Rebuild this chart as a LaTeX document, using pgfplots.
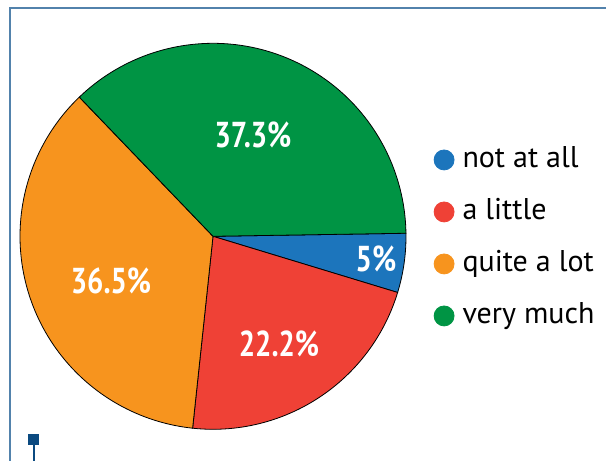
\documentclass[border=0pt]{standalone}
\usepackage{pgfplots}
\usepackage{pgfplotstable}
\pgfplotsset{compat=1.18}
\usepackage{fontspec}
\setmainfont{PT Sans}
\definecolor{cBlue}{HTML}{1C75BC}
\definecolor{cRed}{HTML}{EF4136}
\definecolor{cOrange}{HTML}{F7941E}
\definecolor{cGreen}{HTML}{009444}
\definecolor{frameblue}{HTML}{5282AC}
\definecolor{navy}{HTML}{0B4A80}

\pgfplotstableread{
value
5
22.2
36.5
37.3
}\piedata

\begin{document}
\begin{tikzpicture}
\pgfplotstablegetelem{0}{value}\of\piedata \pgfmathsetmacro\va{\pgfplotsretval}
\pgfplotstablegetelem{1}{value}\of\piedata \pgfmathsetmacro\vb{\pgfplotsretval}
\pgfplotstablegetelem{2}{value}\of\piedata \pgfmathsetmacro\vc{\pgfplotsretval}
\pgfplotstablegetelem{3}{value}\of\piedata \pgfmathsetmacro\vd{\pgfplotsretval}
\pgfmathsetmacro\tot{\va+\vb+\vc+\vd}
\pgfmathsetmacro\aO{0.9}
\pgfmathsetmacro\aA{\aO-360*\va/\tot}
\pgfmathsetmacro\aB{\aA-360*\vb/\tot}
\pgfmathsetmacro\aC{\aB-360*\vc/\tot}
\pgfmathsetmacro\aD{\aC-360*\vd/\tot}
\begin{axis}[width=606pt,height=461pt,scale only axis,
  xmin=0,xmax=606,ymin=0,ymax=461,hide axis,clip=false,
  legend cell align=left,
  legend style={draw=none,fill=none,at={(axis cs:430.5,316)},anchor=north west,
    font=\fontsize{30}{33}\selectfont,row sep=26.5pt,column sep=8pt,
    nodes={inner sep=0pt,text height=20.5pt,text depth=5pt}},
  ]
\addplot[fill=cBlue,draw=black,line width=0.8pt,domain=\aA:\aO,samples=30,variable=\t,
  legend image code/.code={\fill[cBlue] (10pt,0pt) circle (10pt);}]
  ({213+193*cos(\t)},{224.7+193*sin(\t)}) -- (axis cs:213,224.7) -- cycle;
\addlegendentry{not at all}
\addplot[fill=cRed,draw=black,line width=0.8pt,domain=\aB:\aA,samples=60,variable=\t,
  legend image code/.code={\fill[cRed] (10pt,0pt) circle (10pt);}]
  ({213+193*cos(\t)},{224.7+193*sin(\t)}) -- (axis cs:213,224.7) -- cycle;
\addlegendentry{a little}
\addplot[fill=cOrange,draw=black,line width=0.8pt,domain=\aC:\aB,samples=90,variable=\t,
  legend image code/.code={\fill[cOrange] (10pt,0pt) circle (10pt);}]
  ({213+193*cos(\t)},{224.7+193*sin(\t)}) -- (axis cs:213,224.7) -- cycle;
\addlegendentry{quite a lot}
\addplot[fill=cGreen,draw=black,line width=0.8pt,domain=\aD:\aC,samples=90,variable=\t,
  legend image code/.code={\fill[cGreen] (10pt,0pt) circle (10pt);}]
  ({213+193*cos(\t)},{224.7+193*sin(\t)}) -- (axis cs:213,224.7) -- cycle;
\addlegendentry{very much}
% frame and marker
\addplot[draw=frameblue,line width=2pt,forget plot] coordinates {(9.5,0) (9.5,453) (606,453)};
\addplot[fill=navy,draw=none,forget plot] coordinates {(28,16) (39,16) (39,27) (28,27)} -- cycle;
\addplot[draw=navy,line width=2pt,forget plot] coordinates {(33.5,0) (33.5,16)};
% labels
\node[text=white,font=\bfseries\fontsize{36}{40}\selectfont] at (axis cs:253,326) {\scalebox{0.8}[1]{37.3\%}};
\node[text=white,font=\bfseries\fontsize{36}{40}\selectfont] at (axis cs:111,180) {\scalebox{0.8}[1]{36.5\%}};
\node[text=white,font=\bfseries\fontsize{36}{40}\selectfont] at (axis cs:279,117) {\scalebox{0.8}[1]{22.2\%}};
\node[text=white,font=\bfseries\fontsize{36}{40}\selectfont] at (axis cs:376,202) {\scalebox{0.8}[1]{5\%}};
\end{axis}
\pgfresetboundingbox
\path (current axis.south west) rectangle (current axis.north east);
\end{tikzpicture}
\end{document}
